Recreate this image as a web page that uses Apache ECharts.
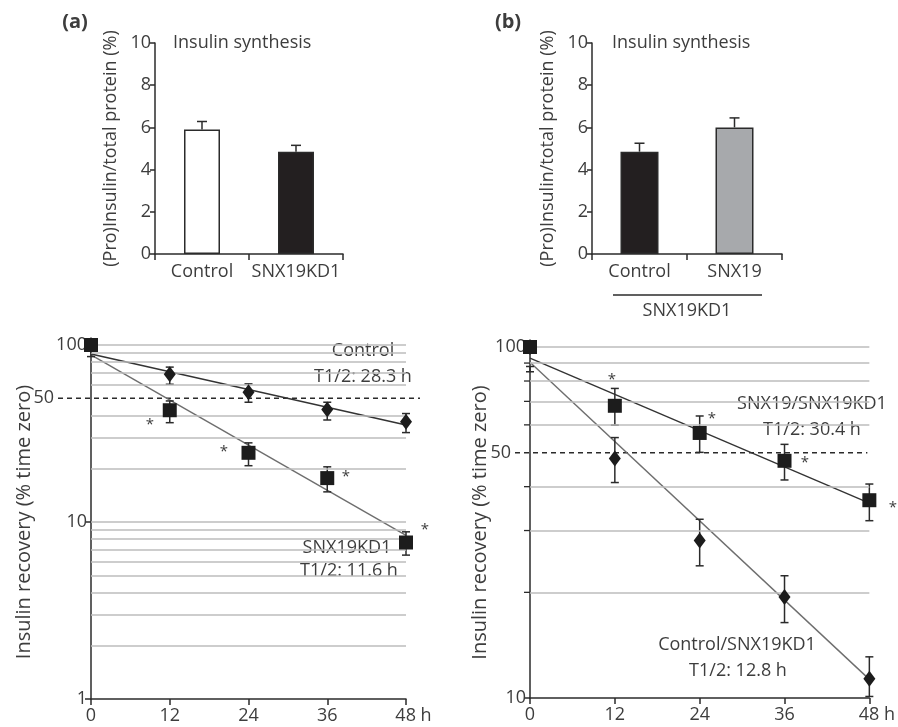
<!DOCTYPE html>
<html>
<head>
<meta charset="utf-8">
<title>Insulin synthesis / recovery</title>
<script src="https://cdn.jsdelivr.net/npm/echarts@6/dist/echarts.min.js"></script>
<style>
    html, body { margin: 0; padding: 0; background: #fff; }
    #main { width: 898px; height: 727px; }
</style>
</head>
<body>
<div id="main"></div>
<script type="text/javascript">
// top panels: insulin synthesis (mean + upper SEM)
var barCatsA = ['Control', 'SNX19KD1'];
var barMeanA = [5.9, 4.85];
var barErrA = [0.38, 0.3];
var barCatsB = ['Control', 'SNX19'];
var barMeanB = [4.85, 6.0];
var barErrB = [0.4, 0.45];

// bottom panels: insulin recovery (% time zero)
var hours = [0, 12, 24, 36, 48];
// (a) Control - diamonds
var ctrlA = [100, 68.4, 54.0, 43.2, 36.9];
var ctrlALow = [100, 60, 47.5, 37.7, 32];
var ctrlAHigh = [100, 75, 60.3, 47.5, 41];
// (a) SNX19KD1 - squares
var kdA = [100, 42.8, 24.6, 17.7, 7.66];
var kdALow = [86, 36.4, 20.8, 14.8, 6.5];
var kdAHigh = [100, 48.3, 28, 20.5, 8.8];
// (b) SNX19/SNX19KD1 - squares
var snxB = [100, 68.0, 56.9, 47.4, 36.6];
var snxBLow = [100, 59.9, 50.1, 41.8, 32.0];
var snxBHigh = [100, 76.2, 63.6, 52.8, 40.7];
// (b) Control/SNX19KD1 - diamonds
var ctrlB = [100, 48.1, 28.1, 19.4, 11.35];
var ctrlBLow = [85, 41.1, 23.8, 16.4, 10.1];
var ctrlBHigh = [88, 55.2, 32.3, 22.3, 13.1];

// exponential fits (value at 0 h and 48 h)
var fitHours = [0, 48];
var ctrlAFit = [89, 35.3];
var kdAFit = [88, 8.4];
var snxBFit = [93, 35.9];
var ctrlBFit = [90.5, 11.3];

// horizontal reference lines
var gridValsA = [2, 3, 4, 5, 6, 7, 8, 9, 10, 20, 30, 40, 60, 70, 80, 90, 100];
var gridValsB = [20, 30, 40, 60, 70, 80, 90, 100];
var minorTicksB = [20, 30, 40, 60, 70, 80, 90];
var halfLevel = 50;

var TXT = '#3d3d3d';
var AX = '#2b2b2b';
var FONT = '"Open Sans", "Noto Sans", sans-serif';
var FS = 18;

var myChart = echarts.init(document.getElementById('main'));

function zip(xs, ys) {
    return xs.map(function (x, i) { return [x, ys[i]]; });
}
function zip3(xs, a, b) {
    return xs.map(function (x, i) { return [x, a[i], b[i]]; });
}

// bar error bar: only the upper whisker
function barErrItem(params, api) {
    var top = api.coord([api.value(0), api.value(1)]);
    var hi = api.coord([api.value(0), api.value(1) + api.value(2)]);
    var style = { stroke: AX, lineWidth: 1.5 };
    return {
        type: 'group',
        children: [
            { type: 'line', shape: { x1: top[0], y1: top[1], x2: hi[0], y2: hi[1] }, style: style },
            { type: 'line', shape: { x1: hi[0] - 5, y1: hi[1], x2: hi[0] + 5, y2: hi[1] }, style: style }
        ]
    };
}

// two sided error bar for the time course
function errItem(params, api) {
    var lo = api.coord([api.value(0), api.value(1)]);
    var hi = api.coord([api.value(0), api.value(2)]);
    var style = { stroke: AX, lineWidth: 1.5 };
    return {
        type: 'group',
        children: [
            { type: 'line', shape: { x1: lo[0], y1: lo[1], x2: hi[0], y2: hi[1] }, style: style },
            { type: 'line', shape: { x1: hi[0] - 4, y1: hi[1], x2: hi[0] + 4, y2: hi[1] }, style: style },
            { type: 'line', shape: { x1: lo[0] - 4, y1: lo[1], x2: lo[0] + 4, y2: lo[1] }, style: style }
        ]
    };
}

// dashed 50 % line with its own label, reaching a bit past the axes
function halfLineFactory(extL, extR) {
    return function (params, api) {
        var p0 = api.coord([0, api.value(1)]);
        var p1 = api.coord([48, api.value(1)]);
        return {
            type: 'group',
            children: [
                { type: 'line', shape: { x1: p0[0] - extL, y1: p0[1], x2: p1[0] + extR, y2: p1[1] },
                  style: { stroke: AX, lineWidth: 1.5, lineDash: [5, 4] } },
                { type: 'text', style: { text: String(api.value(1)), x: p0[0] - extL - 4, y: p0[1],
                  align: 'right', verticalAlign: 'middle', fill: TXT, font: FS + 'px ' + FONT } }
            ]
        };
    };
}

function minorTickItem(params, api) {
    var p = api.coord([0, api.value(1)]);
    return { type: 'line', shape: { x1: p[0] - 6, y1: p[1], x2: p[0], y2: p[1] },
             style: { stroke: AX, lineWidth: 1.3 } };
}

function barYAxis(grid) {
    return {
        type: 'value', gridIndex: grid, min: 0, max: 10, interval: 2,
        name: '(Pro)Insulin/total protein (%)', nameLocation: 'middle', nameGap: 35,
        nameTextStyle: { color: TXT, fontSize: 18, fontFamily: FONT },
        axisLine: { show: true, lineStyle: { color: AX, width: 1.5 } },
        axisTick: { show: true, length: 5, lineStyle: { color: AX, width: 1.5 } },
        axisLabel: { color: TXT, fontSize: FS, fontFamily: FONT, margin: 4 },
        splitLine: { show: false }
    };
}
function barXAxis(grid, cats) {
    return {
        type: 'category', gridIndex: grid, data: cats,
        axisLine: { lineStyle: { color: AX, width: 1.5 } },
        axisTick: { show: true, length: 6, lineStyle: { color: AX, width: 1.5 } },
        axisLabel: { color: TXT, fontSize: FS, fontFamily: FONT, margin: 9, interval: 0 }
    };
}
function timeXAxis(grid) {
    return {
        type: 'value', gridIndex: grid, min: 0, max: 48, interval: 12,
        axisLine: { onZero: false, lineStyle: { color: AX, width: 1.5 } },
        axisTick: { show: true, length: 6, lineStyle: { color: AX, width: 1.5 } },
        axisLabel: {
            color: TXT, fontSize: FS, fontFamily: FONT, margin: 8,
            formatter: function (v) { return v === 48 ? '{pad|}{n|48}{n| h}' : '{n|' + v + '}'; },
            rich: { n: { fontSize: FS, fontFamily: FONT, color: TXT }, pad: { width: 15 } }
        },
        splitLine: { show: false }
    };
}
function logYAxis(grid, min, gap) {
    return {
        type: 'log', logBase: 10, gridIndex: grid, min: min, max: 100,
        name: 'Insulin recovery (% time zero)', nameLocation: 'middle', nameGap: gap,
        nameTextStyle: { color: TXT, fontSize: 20, fontFamily: FONT },
        axisLine: { show: true, onZero: false, lineStyle: { color: AX, width: 1.5 } },
        axisTick: { show: true, length: 6, lineStyle: { color: AX, width: 1.5 } },
        axisLabel: { color: TXT, fontSize: FS, fontFamily: FONT, margin: 4 },
        splitLine: { show: false }
    };
}

function refLines(xi, yi, vals) {
    return {
        type: 'line', xAxisIndex: xi, yAxisIndex: yi, data: [], z: 1, silent: true,
        markLine: {
            silent: true, symbol: 'none', animation: false, label: { show: false },
            lineStyle: { color: '#bdbdbd', width: 1.5, type: 'solid' },
            data: vals.map(function (v) { return { yAxis: v }; })
        }
    };
}
function fitLine(xi, yi, vals, color) {
    return {
        type: 'line', xAxisIndex: xi, yAxisIndex: yi, data: zip(fitHours, vals),
        symbol: 'none', z: 3, lineStyle: { color: color, width: 1.4 }
    };
}
function errSeries(xi, yi, lo, hi) {
    return {
        type: 'custom', xAxisIndex: xi, yAxisIndex: yi, renderItem: errItem, z: 4,
        data: zip3(hours, lo, hi), encode: { x: 0, y: [1, 2] }
    };
}
function pointSeries(xi, yi, vals, shape) {
    return {
        type: 'scatter', xAxisIndex: xi, yAxisIndex: yi, data: zip(hours, vals), z: 5,
        symbol: shape === 'square' ? 'rect' : 'diamond',
        symbolSize: shape === 'square' ? 14 : [12, 16],
        itemStyle: { color: '#1c1c1c', opacity: 1 }
    };
}

function txt(x, y, s, opts) {
    opts = opts || {};
    return {
        type: 'text', x: x, y: y, silent: true,
        style: {
            text: s, fill: TXT, font: (opts.weight || 'normal') + ' ' + (opts.size || FS) + 'px ' + FONT,
            textAlign: opts.align || 'center', textVerticalAlign: 'middle'
        }
    };
}

var option = {
    backgroundColor: '#fff',
    animation: false,
    grid: [
        { left: 155, top: 43, width: 188, height: 211 },
        { left: 592, top: 43, width: 190, height: 211 },
        { left: 91, top: 345, width: 315, height: 354 },
        { left: 530, top: 347, width: 341, height: 351 }
    ],
    xAxis: [
        barXAxis(0, barCatsA),
        barXAxis(1, barCatsB),
        timeXAxis(2),
        timeXAxis(3)
    ],
    yAxis: [
        barYAxis(0),
        barYAxis(1),
        logYAxis(2, 1, 57),
        logYAxis(3, 10, 40)
    ],
    series: [
        // (a) bars
        {
            type: 'bar', xAxisIndex: 0, yAxisIndex: 0, barWidth: 36, z: 2,
            data: [
                { value: barMeanA[0], itemStyle: { color: '#fff', borderColor: AX, borderWidth: 1.5 } },
                { value: barMeanA[1], itemStyle: { color: '#231f20', borderColor: AX, borderWidth: 1.5 } }
            ]
        },
        {
            type: 'custom', xAxisIndex: 0, yAxisIndex: 0, renderItem: barErrItem, z: 3,
            data: barMeanA.map(function (m, i) { return [i, m, barErrA[i]]; })
        },
        // (b) bars
        {
            type: 'bar', xAxisIndex: 1, yAxisIndex: 1, barWidth: 38, z: 2,
            data: [
                { value: barMeanB[0], itemStyle: { color: '#231f20', borderColor: AX, borderWidth: 1.5 } },
                { value: barMeanB[1], itemStyle: { color: '#a7a9ac', borderColor: AX, borderWidth: 1.5 } }
            ]
        },
        {
            type: 'custom', xAxisIndex: 1, yAxisIndex: 1, renderItem: barErrItem, z: 3,
            data: barMeanB.map(function (m, i) { return [i, m, barErrB[i]]; })
        },

        // (a) time course
        refLines(2, 2, gridValsA),
        {
            type: 'custom', xAxisIndex: 2, yAxisIndex: 2, clip: false, z: 2,
            renderItem: halfLineFactory(33, 14), data: [[0, halfLevel]]
        },
        fitLine(2, 2, ctrlAFit, '#333'),
        fitLine(2, 2, kdAFit, '#6e6e6e'),
        errSeries(2, 2, ctrlALow, ctrlAHigh),
        errSeries(2, 2, kdALow, kdAHigh),
        pointSeries(2, 2, ctrlA, 'diamond'),
        pointSeries(2, 2, kdA, 'square'),

        // (b) time course
        refLines(3, 3, gridValsB),
        {
            type: 'custom', xAxisIndex: 3, yAxisIndex: 3, clip: false, z: 2,
            renderItem: halfLineFactory(15, -2), data: [[0, halfLevel]]
        },
        {
            type: 'custom', xAxisIndex: 3, yAxisIndex: 3, clip: false, z: 2,
            renderItem: minorTickItem, data: minorTicksB.map(function (v) { return [0, v]; })
        },
        fitLine(3, 3, snxBFit, '#333'),
        fitLine(3, 3, ctrlBFit, '#6e6e6e'),
        errSeries(3, 3, ctrlBLow, ctrlBHigh),
        errSeries(3, 3, snxBLow, snxBHigh),
        pointSeries(3, 3, ctrlB, 'diamond'),
        pointSeries(3, 3, snxB, 'square')
    ],
    graphic: [
        txt(75, 22, '(a)', { weight: 'bold', size: 20 }),
        txt(508, 22, '(b)', { weight: 'bold', size: 20 }),
        txt(173, 43, 'Insulin synthesis', { align: 'left' }),
        txt(612, 43, 'Insulin synthesis', { align: 'left' }),
        { type: 'line', shape: { x1: 613, y1: 295, x2: 762, y2: 295 }, style: { stroke: AX, lineWidth: 1.5 } },
        txt(687, 311, 'SNX19KD1'),

        txt(363, 351, 'Control'),
        txt(363, 377, 'T1/2: 28.3 h'),
        txt(347, 548, 'SNX19KD1'),
        txt(349, 571, 'T1/2: 11.6 h'),
        txt(812, 404, 'SNX19/SNX19KD1'),
        txt(812, 430, 'T1/2: 30.4 h'),
        txt(737, 645, 'Control/SNX19KD1'),
        txt(738, 671, 'T1/2: 12.8 h'),

        txt(150, 425, '*', { size: 15 }),
        txt(224, 452, '*', { size: 15 }),
        txt(346, 477, '*', { size: 15 }),
        txt(425, 530, '*', { size: 15 }),
        txt(612, 380, '*', { size: 15 }),
        txt(712, 419, '*', { size: 15 }),
        txt(805, 463, '*', { size: 15 }),
        txt(893, 508, '*', { size: 15 })
    ]
};

myChart.setOption(option);
</script>
</body>
</html>
